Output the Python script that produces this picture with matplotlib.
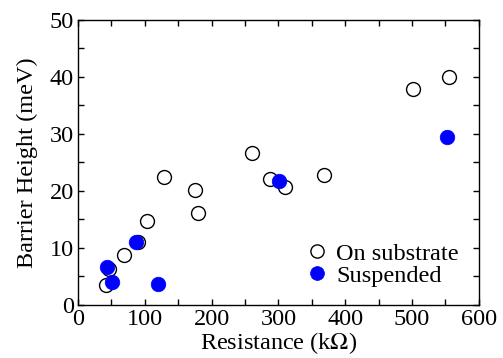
import matplotlib
matplotlib.use("Agg")
import matplotlib.pyplot as plt
from matplotlib.ticker import MultipleLocator

plt.rcParams['font.family'] = ['Liberation Serif', 'DejaVu Serif']
plt.rcParams['mathtext.fontset'] = 'stix'

# On substrate (open circles)
sub_r = [42, 46, 69, 90, 104, 129, 175, 180, 260, 287, 310, 368, 501, 556]
sub_h = [3.5, 6.3, 8.8, 11.0, 14.7, 22.4, 20.2, 16.1, 26.6, 22.1, 20.7, 22.8, 37.9, 39.9]

# Suspended (filled blue)
sus_r = [43, 51, 87, 120, 301, 552]
sus_h = [6.6, 4.0, 11.0, 3.7, 21.7, 29.5]

fs = 17.5

fig = plt.figure(figsize=(5.03, 3.58), dpi=100)
ax = fig.add_axes([0.155, 0.148, 0.797, 0.797])

ax.plot(sub_r, sub_h, 'o', ms=10, mfc='white', mec='black', mew=1.0,
        label='On substrate', zorder=3)
ax.plot(sus_r, sus_h, 'o', ms=10.5, mfc='#0000ff', mec='#0000ff', mew=0.5,
        label='Suspended', zorder=4)

ax.set_xlim(0, 600)
ax.set_ylim(0, 50)
ax.xaxis.set_major_locator(MultipleLocator(100))
ax.xaxis.set_minor_locator(MultipleLocator(50))
ax.yaxis.set_major_locator(MultipleLocator(10))
ax.yaxis.set_minor_locator(MultipleLocator(5))
ax.tick_params(which='both', direction='in', top=True, right=True,
               labelsize=fs, width=1.0, pad=3)
ax.tick_params(which='major', length=4.5)
ax.tick_params(which='minor', length=4.5)
for s in ax.spines.values():
    s.set_linewidth(1.0)

ax.set_xlabel('Resistance (k$\\Omega$)', fontsize=fs, labelpad=0)
ax.set_ylabel('Barrier Height (meV)', fontsize=fs, labelpad=8)

ax.legend(loc='lower left', bbox_to_anchor=(0.535, 0.03), frameon=False,
          fontsize=fs, handletextpad=0.2, labelspacing=0.0, borderaxespad=0,
          handlelength=1.2, markerscale=0.95)

fig.savefig('out.png', dpi=100)
